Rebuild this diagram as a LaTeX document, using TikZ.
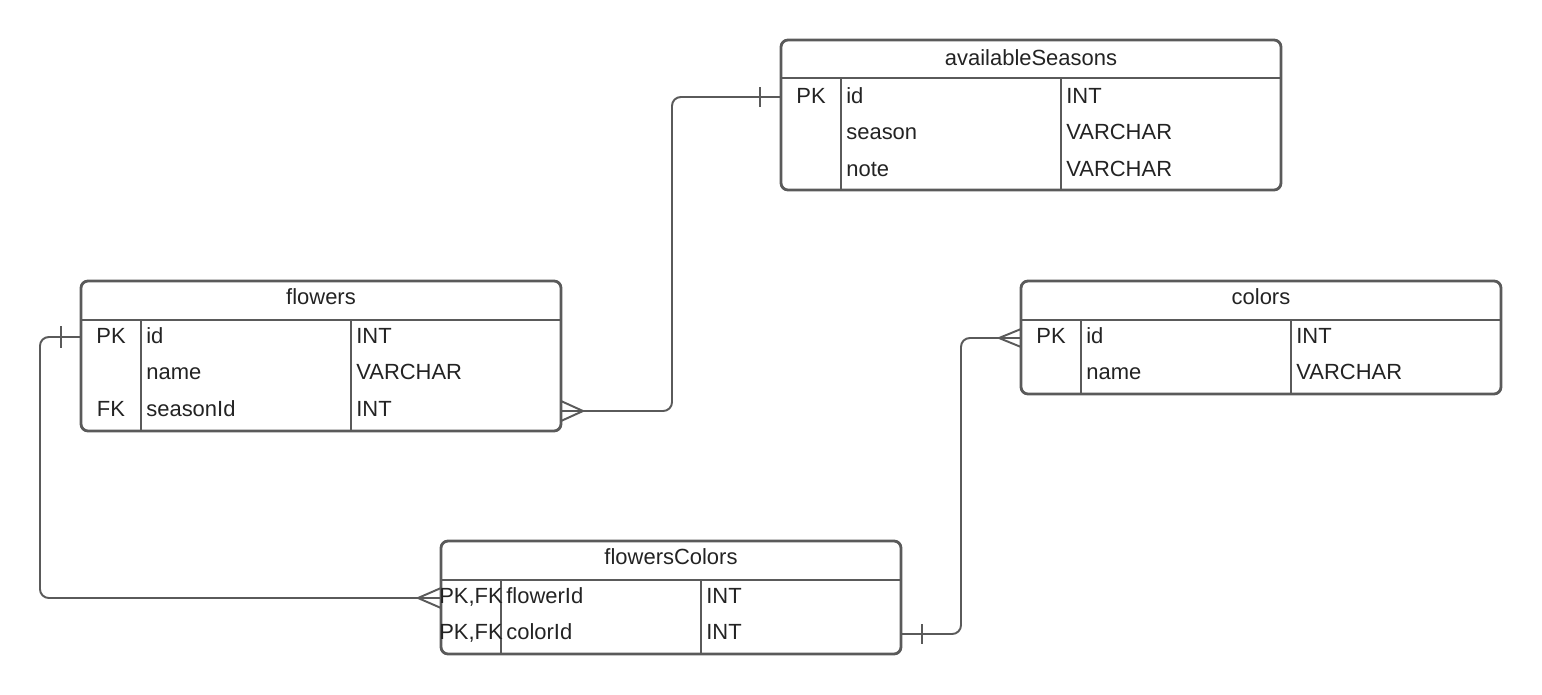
\documentclass[tikz,border=0pt]{standalone}
\usepackage{fontspec}
\setmainfont{Liberation Sans}
\usepackage{xcolor}

\definecolor{erline}{RGB}{90,90,90}
\definecolor{ertext}{RGB}{35,35,35}

\tikzset{
	tablebox/.style={draw=erline, line width=1.6pt, rounded corners=4pt},
	cell/.style={inner sep=0pt, text height=1.6ex, text depth=.4ex, yshift=-1.1pt},
	field/.style={cell, anchor=west},
	relline/.style={draw=erline, line width=1.1pt, rounded corners=5pt},
	endmark/.style={draw=erline, line width=1.1pt}
}

\begin{document}
\begin{tikzpicture}[x=0.02cm, y=-0.02cm, font=\fontsize{12.5}{15}\selectfont, text=ertext]
	\useasboundingbox (0,0) rectangle (1542,694);
	
	% availableSeasons
	\draw[tablebox] (781,40) rectangle (1281,190);
	\draw[tablebox] (781,78) -- (1281,78);
	\draw[tablebox] (841,78) -- (841,190);
	\draw[tablebox] (1061,78) -- (1061,190);
	\node[cell] (seasons) at (1031,58) {availableSeasons};
	\node[cell] (seasons-pk) at (811,96) {PK};
	\node[field] (seasons-id) at (846,96) {id};
	\node[field] (seasons-idtype) at (1066,96) {INT};
	\node[field] (seasons-season) at (846,132) {season};
	\node[field] (seasons-seasontype) at (1066,132) {VARCHAR};
	\node[field] (seasons-note) at (846,169) {note};
	\node[field] (seasons-notetype) at (1066,169) {VARCHAR};
	\coordinate (seasons-in) at (781,97);
	
	% flowers
	\draw[tablebox] (81,281) rectangle (561,431);
	\draw[tablebox] (81,320) -- (561,320);
	\draw[tablebox] (141,320) -- (141,431);
	\draw[tablebox] (351,320) -- (351,431);
	\node[cell] (flowers) at (321,297) {flowers};
	\node[cell] (flowers-pk) at (111,336) {PK};
	\node[field] (flowers-id) at (146,336) {id};
	\node[field] (flowers-idtype) at (356,336) {INT};
	\node[field] (flowers-name) at (146,372) {name};
	\node[field] (flowers-nametype) at (356,372) {VARCHAR};
	\node[cell] (flowers-fk) at (111,409) {FK};
	\node[field] (flowers-seasonId) at (146,409) {seasonId};
	\node[field] (flowers-seasonIdtype) at (356,409) {INT};
	\coordinate (flowers-in) at (81,337);
	\coordinate (flowers-out) at (561,411);
	
	% colors
	\draw[tablebox] (1021,281) rectangle (1501,394);
	\draw[tablebox] (1021,320) -- (1501,320);
	\draw[tablebox] (1081,320) -- (1081,394);
	\draw[tablebox] (1291,320) -- (1291,394);
	\node[cell] (colors) at (1261,297) {colors};
	\node[cell] (colors-pk) at (1051,336) {PK};
	\node[field] (colors-id) at (1086,336) {id};
	\node[field] (colors-idtype) at (1296,336) {INT};
	\node[field] (colors-name) at (1086,372) {name};
	\node[field] (colors-nametype) at (1296,372) {VARCHAR};
	\coordinate (colors-in) at (1021,338);
	
	% flowersColors
	\draw[tablebox] (441,541) rectangle (901,654);
	\draw[tablebox] (441,580) -- (901,580);
	\draw[tablebox] (501,580) -- (501,654);
	\draw[tablebox] (701,580) -- (701,654);
	\node[cell] (flowersColors) at (671,557) {flowersColors};
	\node[cell] (flowersColors-pk1) at (471,596) {PK,FK};
	\node[field] (flowersColors-flowerId) at (506,596) {flowerId};
	\node[field] (flowersColors-flowerIdtype) at (706,596) {INT};
	\node[cell] (flowersColors-pk2) at (471,632) {PK,FK};
	\node[field] (flowersColors-colorId) at (506,632) {colorId};
	\node[field] (flowersColors-colorIdtype) at (706,632) {INT};
	\coordinate (flowersColors-in) at (441,598);
	\coordinate (flowersColors-out) at (901,634);
	
	% availableSeasons 1 -- n flowers
	\draw[relline] (seasons-in) -- ++(-109,0) |- (flowers-out);
	\draw[endmark] (seasons-in) ++(-21,-10) -- ++(0,20);
	\draw[endmark] (flowers-out) ++(0,-10) -- ++(22,10) -- ++(-22,10);
	
	% flowers 1 -- n flowersColors
	\draw[relline] (flowers-in) -- ++(-41,0) |- (flowersColors-in);
	\draw[endmark] (flowers-in) ++(-20,-11) -- ++(0,22);
	\draw[endmark] (flowersColors-in) ++(0,-10) -- ++(-23,10) -- ++(23,10);
	
	% colors 1 -- n flowersColors
	\draw[relline] (flowersColors-out) -- ++(60,0) |- (colors-in);
	\draw[endmark] (flowersColors-out) ++(21,-10) -- ++(0,20);
	\draw[endmark] (colors-in) ++(0,-9) -- ++(-22,9) -- ++(22,9);
\end{tikzpicture}
\end{document}
